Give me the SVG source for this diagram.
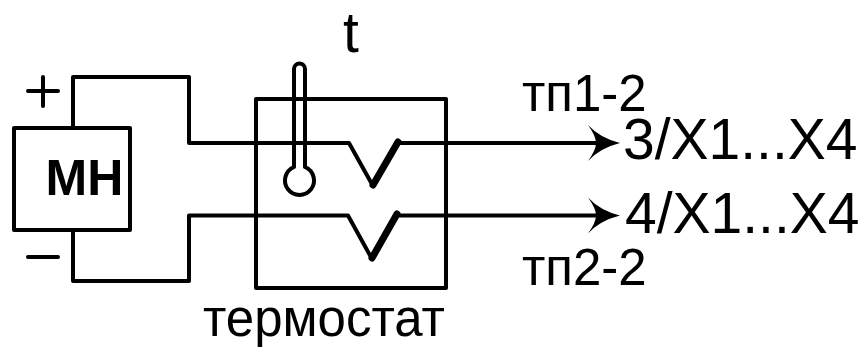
<svg xmlns="http://www.w3.org/2000/svg" width="865" height="347" viewBox="0 0 865 347">
<style>
.l{fill:none;stroke:#000;stroke-width:4;stroke-linejoin:round;stroke-linecap:round}
.k{fill:none;stroke:#000;stroke-width:7;stroke-linecap:round}
text{font-family:"Liberation Sans",Arial,sans-serif;fill:#000}
.a{font-size:57px}.b{font-size:51px}
</style>
<defs><path id="h" d="M588 125Q600 138 620 143Q600 148 588 161Q596 150 596 143Q596 136 588 125Z"/></defs>
<rect width="865" height="347" fill="#fff"/>
<g id="connectors">
<path class="l" d="M73 128V77H189V143H349L373 186"/>
<path class="k" d="M373 185L398 142"/>
<path class="l" d="M398 143H600"/>
<use href="#h"/>
<path class="l" d="M73 230V281H189V215.500H348L372 259"/>
<path class="k" d="M372 258L397 214"/>
<path class="l" d="M397 215.500H600"/>
<use href="#h" y="72.500"/>
</g>
<g id="mh"><rect class="l" x="14" y="128" width="116" height="102"/>
<text x="45.500" y="195" font-size="50" font-weight="700">МН</text></g>
<g id="plus"><path class="l" d="M28 91H58M43 77V106"/></g>
<g id="minus"><path class="l" d="M28 257H58"/></g>
<g id="thermostat"><rect class="l" x="256" y="99" width="190" height="189"/>
<text class="b" x="203" y="335.500">термостат</text></g>
<g id="thermometer"><path class="l" d="M294 167V69A5.500 5.500 0 0 1 305 69V167A14.500 14.500 0 1 1 294 167Z"/>
<text class="a" x="343" y="52">t</text></g>
<g id="out1"><text class="a" x="623" y="159">3/X1...X4</text><text class="b" x="522" y="111">тп1-2</text></g>
<g id="out2"><text class="a" x="625" y="233">4/X1...X4</text><text class="b" x="522" y="285">тп2-2</text></g>
</svg>
